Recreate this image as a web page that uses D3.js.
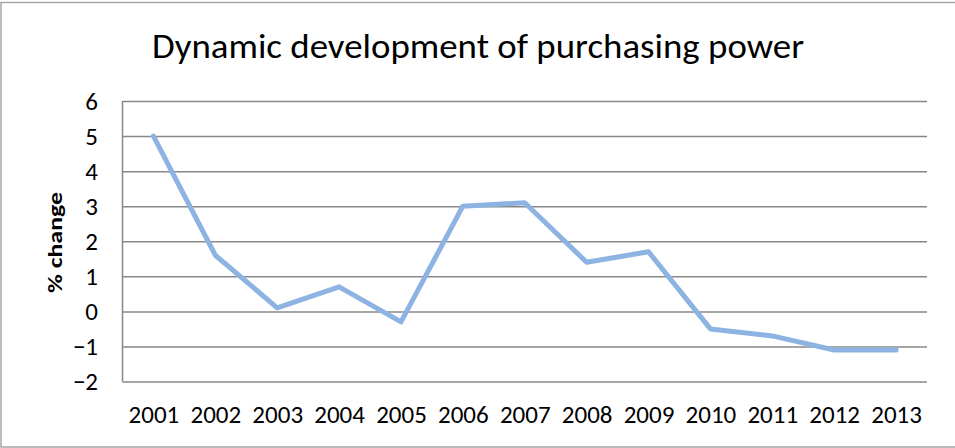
<!DOCTYPE html>
<html>
<head>
<meta charset="utf-8">
<script src="https://cdn.jsdelivr.net/npm/d3@7"></script>
<style>
  html, body { margin: 0; padding: 0; background: #fff; }
  svg { display: block; font-family: Carlito, Calibri, "Open Sans", sans-serif; }
</style>
</head>
<body>
<svg id="chart" width="955" height="448"></svg>
<script>
// Year-on-year change in purchasing power, in percent
const years = ["2001", "2002", "2003", "2004", "2005", "2006", "2007",
               "2008", "2009", "2010", "2011", "2012", "2013"];
const changes = [5.0, 1.6, 0.1, 0.7, -0.3, 3.0, 3.1, 1.4, 1.7, -0.5, -0.7, -1.1, -1.1];
const yTicks = [-2, -1, 0, 1, 2, 3, 4, 5, 6];

const chartTitle = "Dynamic development of purchasing power";
const yTitle = "% change";

const svg = d3.select("#chart");
const W = 955, H = 448;
const plot = { left: 122.5, right: 927, top: 101, bottom: 381.5 };
const fontStack = "Carlito, Calibri, 'Open Sans', sans-serif";

// outer chart frame
svg.append("rect")
  .attr("x", 1).attr("y", 2.5)
  .attr("width", W + 4).attr("height", 444.5)
  .attr("fill", "#fff")
  .attr("stroke", "#a6a6a6")
  .attr("stroke-width", 1.5);

const x = d3.scalePoint()
  .domain(years)
  .range([plot.left, plot.right])
  .padding(0.5);

const y = d3.scaleLinear()
  .domain([d3.min(yTicks), d3.max(yTicks)])
  .range([plot.bottom, plot.top]);

// horizontal gridlines
svg.append("g")
  .attr("class", "grid")
  .attr("transform", `translate(${plot.left},0)`)
  .call(d3.axisLeft(y).tickValues(yTicks).tickSize(-(plot.right - plot.left)).tickFormat(""))
  .call(g => g.select(".domain").remove())
  .call(g => g.selectAll("line").attr("stroke", "#888").attr("stroke-width", 1.5));

// vertical value axis line
svg.append("line")
  .attr("x1", plot.left).attr("x2", plot.left)
  .attr("y1", plot.top).attr("y2", plot.bottom)
  .attr("stroke", "#888").attr("stroke-width", 1.5);

// y tick labels
svg.append("g")
  .attr("transform", `translate(${plot.left},0)`)
  .call(d3.axisLeft(y).tickValues(yTicks).tickSize(0).tickPadding(24.5).tickFormat(d3.format("d")))
  .call(g => g.select(".domain").remove())
  .call(g => g.selectAll("text")
    .attr("font-family", fontStack)
    .attr("font-size", 25)
    .attr("fill", "#000"));

// x tick labels
svg.append("g")
  .attr("transform", `translate(0,${plot.bottom})`)
  .call(d3.axisBottom(x).tickSize(0).tickPadding(24))
  .call(g => g.select(".domain").remove())
  .call(g => g.selectAll("text")
    .attr("font-family", fontStack)
    .attr("font-size", 25)
    .attr("fill", "#000"));

// data line
const line = d3.line()
  .x((d, i) => x(years[i]))
  .y(d => y(d));

svg.append("path")
  .datum(changes)
  .attr("d", line)
  .attr("fill", "none")
  .attr("stroke", "#8db3e2")
  .attr("stroke-width", 5)
  .attr("stroke-linejoin", "round")
  .attr("stroke-linecap", "round");

// chart title
svg.append("text")
  .attr("x", 152).attr("y", 57.5)
  .attr("font-size", 35)
  .attr("fill", "#000")
  .attr("textLength", 652)
  .attr("lengthAdjust", "spacingAndGlyphs")
  .text(chartTitle);

// y axis title
svg.append("text")
  .attr("transform", "translate(62,242.5) rotate(-90)")
  .attr("text-anchor", "middle")
  .attr("font-size", 21)
  .attr("font-weight", "bold")
  .attr("fill", "#000")
  .attr("textLength", 101)
  .attr("lengthAdjust", "spacingAndGlyphs")
  .text(yTitle);
</script>
</body>
</html>
